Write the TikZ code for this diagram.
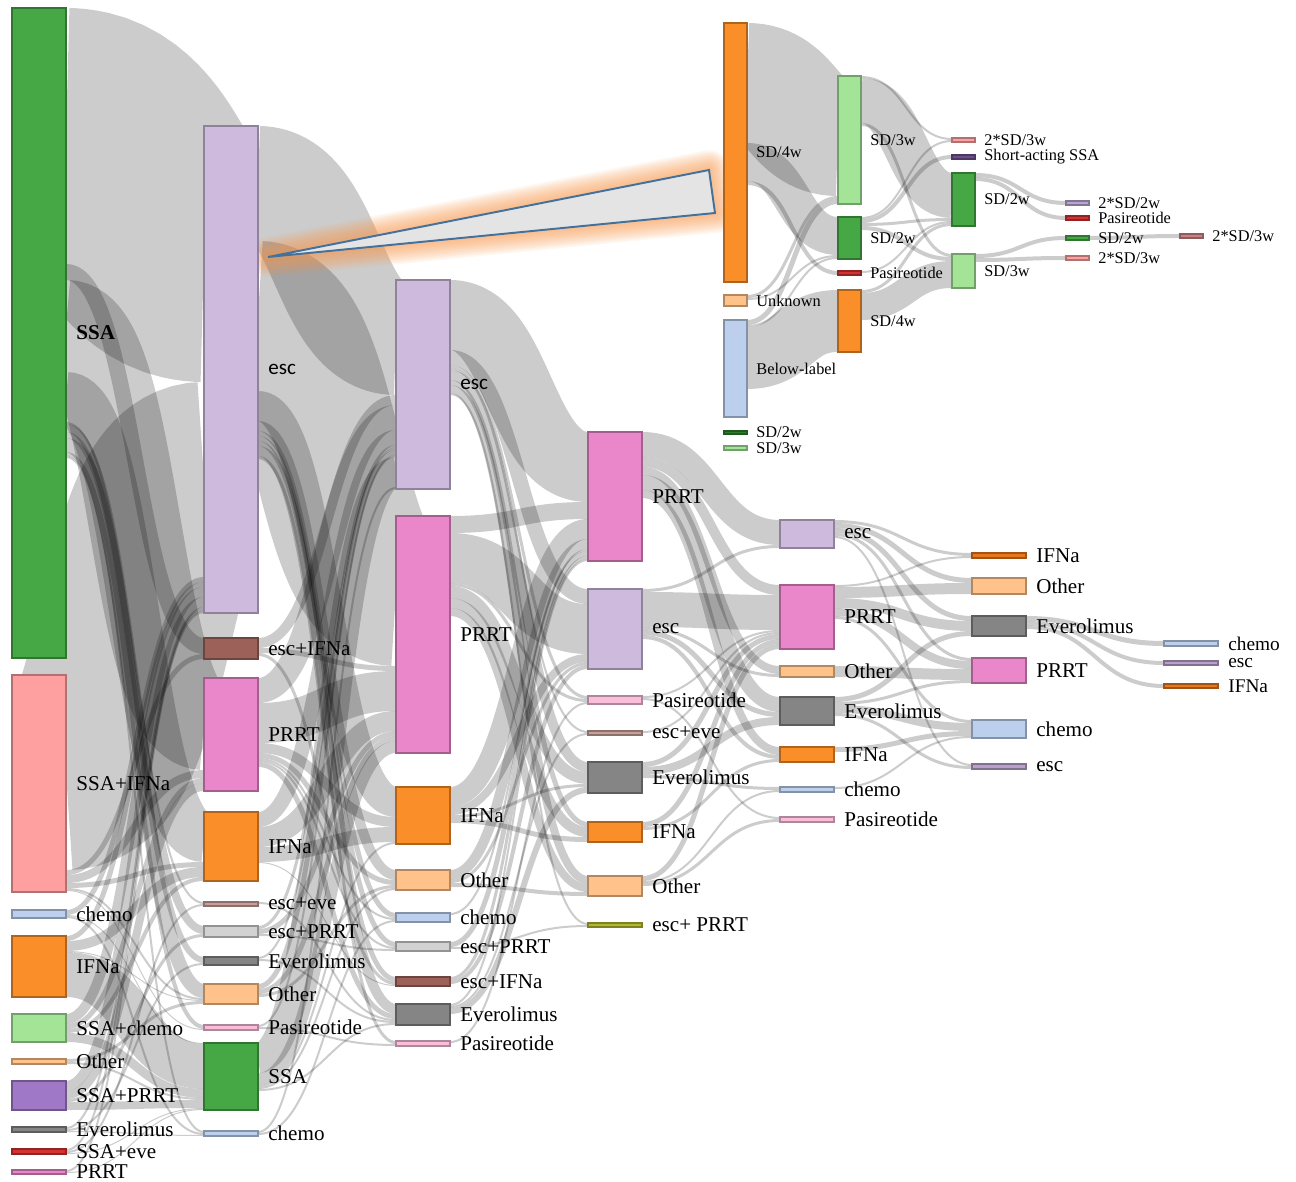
\documentclass[tikz,border=0pt]{standalone}
\usepackage{fontspec}
\setmainfont{Liberation Serif}
\newfontfamily\calfont{Carlito}
\pgfdeclarelayer{fg}
\pgfsetlayers{main,fg}
\definecolor{cGreen}{HTML}{45A845}
\definecolor{cLRed}{HTML}{FFA0A0}
\definecolor{cLBlue}{HTML}{BCD0EE}
\definecolor{cOrange}{HTML}{FA8E28}
\definecolor{cLGreen}{HTML}{A3E497}
\definecolor{cLOrange}{HTML}{FFC28A}
\definecolor{cPurple}{HTML}{A078C8}
\definecolor{cGray}{HTML}{858585}
\definecolor{cRed}{HTML}{D23232}
\definecolor{cPink}{HTML}{EA86CA}
\definecolor{cLav}{HTML}{CDBADD}
\definecolor{cBrown}{HTML}{9C6259}
\definecolor{cLBrown}{HTML}{C8A09A}
\definecolor{cLGray}{HTML}{D2D2D2}
\definecolor{cLPink}{HTML}{F9BEDA}
\definecolor{cOlive}{HTML}{B4B82E}
\definecolor{cDOrange}{HTML}{E8781E}
\definecolor{cDLav}{HTML}{B8A2CB}
\definecolor{cDGreen}{HTML}{2E7D2E}
\definecolor{cDPurple}{HTML}{6D4F8E}
\definecolor{cLavB}{HTML}{B9A6D3}
\definecolor{cBrPink}{HTML}{C98383}
\definecolor{glowc}{HTML}{F7964A}
\definecolor{triblue}{HTML}{41719C}
\definecolor{trifill}{HTML}{E4E4E4}
\newcommand\mainfs{\fontsize{12}{14}\selectfont}
\newcommand\smallfs{\fontsize{11}{12}\selectfont}
\newcommand\insfs{\fontsize{9.3}{11}\selectfont}
\tikzset{
  nodebox/.style={rectangle, inner sep=0pt, outer sep=0pt, line width=0.7pt},
  lbl/.style={anchor=west, inner sep=0pt, xshift=2mm, font=\mainfs, text=black},
  lbls/.style={anchor=west, inner sep=0pt, xshift=2mm, font=\smallfs, text=black},
  lbli/.style={anchor=west, inner sep=0pt, xshift=1.8mm, font=\insfs, text=black},
  flow/.style={draw=black, draw opacity=0.2},
}
\newcommand\nd[8]{%
  \expandafter\xdef\csname nr@#1\endcsname{\number\numexpr#2+#5\relax}%
  \expandafter\xdef\csname nl@#1\endcsname{#2}%
  \expandafter\xdef\csname no@#1\endcsname{#3}%
  \expandafter\xdef\csname ni@#1\endcsname{#3}%
  \begin{pgfonlayer}{fg}%
  \node[nodebox, fill=#6, draw=#6!70!black, minimum width={#5*0.2mm}, minimum height={#4*0.2mm}] (#1) at ({#2+#5/2},{#3+#4/2}) {};%
  \node[#7] (#1-l) at (#1.east) {#8};%
  \end{pgfonlayer}%
}
\newcommand\lk[3]{%
  \edef\lkxa{\csname nr@#1\endcsname}%
  \edef\lkxb{\csname nl@#2\endcsname}%
  \edef\lkoa{\csname no@#1\endcsname}%
  \edef\lkob{\csname ni@#2\endcsname}%
  \pgfmathsetmacro\lkya{\lkoa+#3/2}%
  \pgfmathsetmacro\lkyb{\lkob+#3/2}%
  \pgfmathsetmacro\lkxm{(\lkxa+\lkxb)/2}%
  \draw[flow, line width={#3*0.2mm}] (\lkxa,\lkya) .. controls (\lkxm,\lkya) and (\lkxm,\lkyb) .. (\lkxb,\lkyb);%
  \pgfmathsetmacro\lkt{\lkoa+#3}%
  \expandafter\xdef\csname no@#1\endcsname{\lkt}%
  \pgfmathsetmacro\lkt{\lkob+#3}%
  \expandafter\xdef\csname ni@#2\endcsname{\lkt}%
}
\begin{document}
\begin{tikzpicture}[x=0.02cm, y=-0.02cm]
\useasboundingbox (0,0) rectangle (1296,1182);
% ---- column 1
\nd{a1}{12}{8}{650}{54}{cGreen}{lbl}{\textbf{SSA}}
\nd{a2}{12}{675}{217}{54}{cLRed}{lbl}{SSA+IFNa}
\nd{a3}{12}{910}{8}{54}{cLBlue}{lbl}{chemo}
\nd{a4}{12}{936}{61}{54}{cOrange}{lbl}{IFNa}
\nd{a5}{12}{1014}{28}{54}{cLGreen}{lbl}{SSA+chemo}
\nd{a6}{12}{1059}{5}{54}{cLOrange}{lbl}{Other}
\nd{a7}{12}{1081}{29}{54}{cPurple}{lbl}{SSA+PRRT}
\nd{a8}{12}{1127}{5}{54}{cGray}{lbl}{Everolimus}
\nd{a9}{12}{1149}{5}{54}{cRed}{lbl}{SSA+eve}
\nd{a10}{12}{1170}{4}{54}{cPink}{lbl}{PRRT}
% ---- column 2
\nd{b1}{204}{126}{487}{54}{cLav}{lbl}{\calfont esc}
\nd{b2}{204}{638}{21}{54}{cBrown}{lbl}{esc+IFNa}
\nd{b3}{204}{678}{113}{54}{cPink}{lbl}{PRRT}
\nd{b4}{204}{812}{69}{54}{cOrange}{lbl}{IFNa}
\nd{b5}{204}{902}{4}{54}{cLBrown}{lbl}{esc+eve}
\nd{b6}{204}{926}{11}{54}{cLGray}{lbl}{esc+PRRT}
\nd{b7}{204}{957}{8}{54}{cGray}{lbl}{Everolimus}
\nd{b8}{204}{984}{20}{54}{cLOrange}{lbl}{Other}
\nd{b9}{204}{1025}{5}{54}{cLPink}{lbl}{Pasireotide}
\nd{b10}{204}{1043}{67}{54}{cGreen}{lbl}{SSA}
\nd{b11}{204}{1131}{5}{54}{cLBlue}{lbl}{chemo}
% ---- column 3
\nd{c1}{396}{280}{209}{54}{cLav}{lbl}{\calfont esc}
\nd{c2}{396}{516}{237}{54}{cPink}{lbl}{PRRT}
\nd{c3}{396}{787}{57}{54}{cOrange}{lbl}{IFNa}
\nd{c4}{396}{870}{20}{54}{cLOrange}{lbl}{Other}
\nd{c5}{396}{913}{9}{54}{cLBlue}{lbl}{chemo}
\nd{c6}{396}{942}{9}{54}{cLGray}{lbl}{esc+PRRT}
\nd{c7}{396}{977}{9}{54}{cBrown}{lbl}{esc+IFNa}
\nd{c8}{396}{1004}{21}{54}{cGray}{lbl}{Everolimus}
\nd{c9}{396}{1041}{5}{54}{cLPink}{lbl}{Pasireotide}
% ---- column 4
\nd{d1}{588}{432}{129}{54}{cPink}{lbl}{PRRT}
\nd{d2}{588}{589}{80}{54}{cLav}{lbl}{esc}
\nd{d3}{588}{696}{8}{54}{cLPink}{lbl}{Pasireotide}
\nd{d4}{588}{731}{4}{54}{cLBrown}{lbl}{esc+eve}
\nd{d5}{588}{762}{31}{54}{cGray}{lbl}{Everolimus}
\nd{d6}{588}{822}{20}{54}{cOrange}{lbl}{IFNa}
\nd{d7}{588}{876}{20}{54}{cLOrange}{lbl}{Other}
\nd{d8}{588}{923}{4}{54}{cOlive}{lbl}{esc+ PRRT}
% ---- column 5
\nd{e1}{780}{520}{28}{54}{cLav}{lbl}{esc}
\nd{e2}{780}{585}{64}{54}{cPink}{lbl}{PRRT}
\nd{e3}{780}{666}{11}{54}{cLOrange}{lbl}{Other}
\nd{e4}{780}{697}{28}{54}{cGray}{lbl}{Everolimus}
\nd{e5}{780}{747}{15}{54}{cOrange}{lbl}{IFNa}
\nd{e6}{780}{787}{5}{54}{cLBlue}{lbl}{chemo}
\nd{e7}{780}{817}{5}{54}{cLPink}{lbl}{Pasireotide}
% ---- column 6
\nd{f1}{972}{553}{5}{54}{cDOrange}{lbl}{IFNa}
\nd{f2}{972}{578}{16}{54}{cLOrange}{lbl}{Other}
\nd{f3}{972}{616}{20}{54}{cGray}{lbl}{Everolimus}
\nd{f4}{972}{658}{25}{54}{cPink}{lbl}{PRRT}
\nd{f5}{972}{720}{18}{54}{cLBlue}{lbl}{chemo}
\nd{f6}{972}{764}{5}{54}{cDLav}{lbl}{esc}
% ---- column 7
\nd{g1}{1164}{641}{5}{54}{cLBlue}{lbls}{chemo}
\nd{g2}{1164}{661}{4}{54}{cDLav}{lbls}{esc}
\nd{g3}{1164}{684}{4}{54}{cDOrange}{lbls}{IFNa}
% ---- inset
\nd{i1}{724}{23}{259}{23}{cOrange}{lbli}{SD/4w}
\nd{i2}{724}{295}{11}{23}{cLOrange}{lbli}{Unknown}
\nd{i3}{724}{320}{97}{23}{cLBlue}{lbli}{Below-label}
\nd{i4}{724}{431}{3}{23}{cDGreen}{lbli}{SD/2w}
\nd{i5}{724}{446}{4}{23}{cLGreen}{lbli}{SD/3w}
\nd{j1}{838}{76}{128}{23}{cLGreen}{lbli}{SD/3w}
\nd{j2}{838}{217}{42}{23}{cGreen}{lbli}{SD/2w}
\nd{j3}{838}{271}{4}{23}{cRed}{lbli}{Pasireotide}
\nd{j4}{838}{290}{62}{23}{cOrange}{lbli}{SD/4w}
\nd{k1}{952}{138}{4}{23}{cLRed}{lbli}{2*SD/3w}
\nd{k2}{952}{155}{4}{23}{cDPurple}{lbli}{Short-acting SSA}
\nd{k3}{952}{173}{53}{23}{cGreen}{lbli}{SD/2w}
\nd{k4}{952}{254}{34}{23}{cLGreen}{lbli}{SD/3w}
\nd{l1}{1066}{201}{4}{23}{cLavB}{lbli}{2*SD/2w}
\nd{l2}{1066}{216}{4}{23}{cRed}{lbli}{Pasireotide}
\nd{l3}{1066}{236}{4}{23}{cGreen}{lbli}{SD/2w}
\nd{l4}{1066}{256}{4}{23}{cLRed}{lbli}{2*SD/3w}
\nd{m1}{1180}{234}{4}{23}{cBrPink}{lbli}{2*SD/3w}
\begin{scope}
\clip (12,0) rectangle (1296,1182);
% ==== links col1 -> col2
\lk{a1}{b1}{256}\lk{a1}{b2}{16}\lk{a1}{b3}{92}\lk{a1}{b4}{50}\lk{a1}{b5}{2}
\lk{a1}{b6}{8}\lk{a1}{b7}{6}\lk{a1}{b8}{14}\lk{a1}{b9}{4}\lk{a1}{b11}{2}
\lk{a2}{b1}{195}\lk{a2}{b2}{5}\lk{a2}{b3}{8}\lk{a2}{b4}{5}
\lk{a2}{b8}{2}\lk{a2}{b9}{1}
\lk{a3}{b1}{5}\lk{a3}{b10}{1}\lk{a3}{b11}{2}
\lk{a4}{b1}{5}\lk{a4}{b4}{10}\lk{a4}{b8}{1}\lk{a4}{b10}{45}
\lk{a5}{b1}{10}\lk{a5}{b3}{5}\lk{a5}{b4}{4}\lk{a5}{b10}{9}
\lk{a6}{b8}{3}\lk{a6}{b10}{2}
\lk{a7}{b1}{10}\lk{a7}{b3}{8}\lk{a7}{b6}{3}\lk{a7}{b10}{8}
\lk{a8}{b1}{2}\lk{a8}{b7}{2}\lk{a8}{b11}{1}
\lk{a9}{b1}{2}\lk{a9}{b5}{2}\lk{a9}{b10}{1}
\lk{a10}{b1}{2}\lk{a10}{b10}{1}
% ==== col2 -> col3
\lk{b1}{c1}{115}\lk{b1}{c2}{150}\lk{b1}{c3}{30}\lk{b1}{c4}{10}\lk{b1}{c5}{5}
\lk{b1}{c6}{5}\lk{b1}{c7}{5}\lk{b1}{c8}{10}\lk{b1}{c9}{3}
\lk{b2}{c1}{10}\lk{b2}{c2}{5}\lk{b2}{c7}{3}
\lk{b3}{c1}{25}\lk{b3}{c2}{40}\lk{b3}{c3}{10}\lk{b3}{c4}{5}\lk{b3}{c5}{2}\lk{b3}{c6}{2}\lk{b3}{c8}{5}
\lk{b4}{c1}{15}\lk{b4}{c2}{20}\lk{b4}{c3}{15}\lk{b4}{c7}{1}
\lk{b5}{c8}{2}
\lk{b6}{c1}{3}\lk{b6}{c2}{5}\lk{b6}{c6}{2}
\lk{b7}{c1}{2}\lk{b7}{c8}{2}
\lk{b8}{c1}{5}\lk{b8}{c2}{5}\lk{b8}{c4}{3}
\lk{b9}{c1}{2}\lk{b9}{c9}{2}
\lk{b10}{c1}{30}\lk{b10}{c2}{12}\lk{b10}{c3}{2}\lk{b10}{c4}{2}\lk{b10}{c8}{2}
\lk{b11}{c1}{2}\lk{b11}{c5}{2}
% ==== col3 -> col4
\lk{c1}{d1}{70}\lk{c1}{d2}{15}\lk{c1}{d3}{3}\lk{c1}{d4}{2}\lk{c1}{d5}{10}\lk{c1}{d6}{5}\lk{c1}{d7}{8}\lk{c1}{d8}{2}
\lk{c2}{d1}{17}\lk{c2}{d2}{50}\lk{c2}{d3}{3}\lk{c2}{d5}{12}\lk{c2}{d6}{10}\lk{c2}{d7}{8}
\lk{c3}{d1}{20}\lk{c3}{d2}{8}\lk{c3}{d5}{3}\lk{c3}{d6}{5}
\lk{c4}{d1}{10}\lk{c4}{d2}{3}\lk{c4}{d7}{4}
\lk{c5}{d1}{2}
\lk{c6}{d1}{5}\lk{c6}{d8}{2}
\lk{c7}{d1}{3}\lk{c7}{d2}{4}
\lk{c8}{d1}{2}\lk{c8}{d4}{2}\lk{c8}{d5}{6}
\lk{c9}{d3}{2}
% ==== col4 -> col5
\lk{d1}{e1}{25}\lk{d1}{e2}{10}\lk{d1}{e3}{8}\lk{d1}{e4}{15}\lk{d1}{e5}{8}
\lk{d2}{e1}{3}\lk{d2}{e2}{35}\lk{d2}{e3}{3}\lk{d2}{e4}{5}\lk{d2}{e5}{4}
\lk{d3}{e2}{2}\lk{d3}{e7}{2}
\lk{d4}{e2}{2}
\lk{d5}{e2}{5}\lk{d5}{e4}{8}\lk{d5}{e6}{3}
\lk{d6}{e2}{5}\lk{d6}{e5}{3}
\lk{d7}{e2}{5}\lk{d7}{e6}{2}\lk{d7}{e7}{3}
% ==== col5 -> col6
\lk{e1}{f1}{3}\lk{e1}{f2}{5}\lk{e1}{f3}{5}\lk{e1}{f4}{3}\lk{e1}{f6}{2}
\lk{e2}{f1}{2}\lk{e2}{f2}{11}\lk{e2}{f3}{10}\lk{e2}{f4}{8}\lk{e2}{f5}{3}
\lk{e3}{f4}{11}
\lk{e4}{f3}{5}\lk{e4}{f4}{3}\lk{e4}{f5}{8}\lk{e4}{f6}{3}
\lk{e5}{f5}{5}
\lk{e6}{f5}{2}
% ==== col6 -> col7
\lk{f3}{g1}{5}\lk{f3}{g2}{4}\lk{f3}{g3}{4}
% ==== inset links
\lk{i1}{j1}{120}\lk{i1}{j2}{38}\lk{i1}{j3}{4}
\lk{i2}{j1}{3}\lk{i2}{j2}{2}
\lk{i3}{j1}{5}\lk{i3}{j2}{2}\lk{i3}{j4}{62}
\lk{j1}{k1}{2}\lk{j1}{k3}{45}\lk{j1}{k4}{3}
\lk{j2}{k1}{2}\lk{j2}{k2}{4}\lk{j2}{k3}{3}\lk{j2}{k4}{4}
\lk{j3}{k3}{2}
\lk{j4}{k3}{3}\lk{j4}{k4}{27}
\lk{k3}{l1}{4}\lk{k3}{l2}{4}
\lk{k4}{l3}{4}\lk{k4}{l4}{4}
\lk{l3}{m1}{4}
\end{scope}
% ==== call-out wedge with soft orange glow
\coordinate (tA) at (268,257);
\coordinate (tB) at (709,170);
\coordinate (tC) at (715,213);
\foreach \w in {40,37,...,4}{
  \draw[draw=glowc, line width=\w*0.2mm, draw opacity=0.07, line join=round] (tA) -- (tB) -- (tC) -- cycle;
}
\fill[trifill] (tA) -- (tB) -- (tC) -- cycle;
\draw[triblue, line width=1.1pt, line join=miter] (tA) -- (tB) -- (tC) -- cycle;
\end{tikzpicture}
\end{document}
